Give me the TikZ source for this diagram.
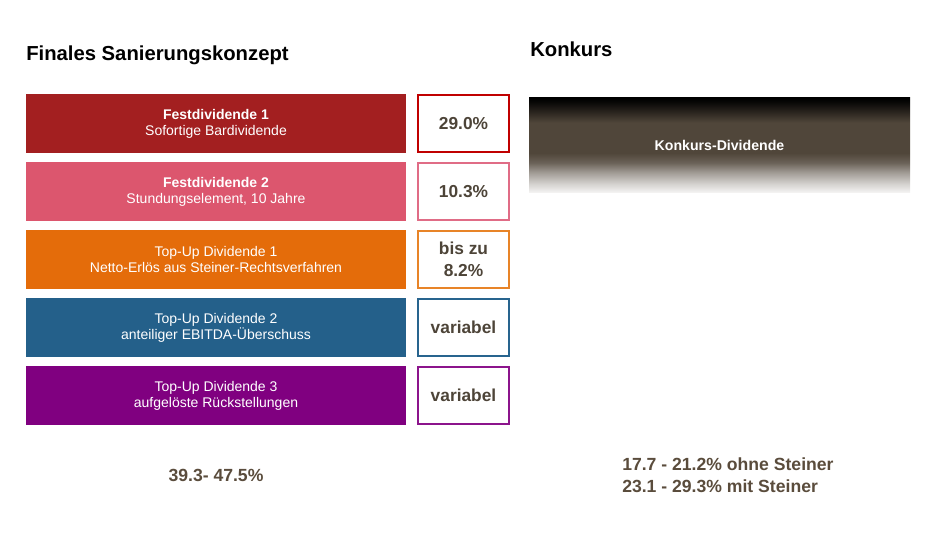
\documentclass[tikz,border=0pt]{standalone}
\usepackage{fontspec}
\setmainfont{Liberation Sans}
\usetikzlibrary{positioning}
\definecolor{custom-red}{RGB}{163, 31, 32}
\definecolor{custom-redline}{RGB}{192, 0, 0}
\definecolor{custom-pink}{RGB}{220, 86, 110}
\definecolor{custom-pinkline}{RGB}{224, 108, 134}
\definecolor{custom-orange}{RGB}{228, 108, 10}
\definecolor{custom-orangeline}{RGB}{232, 132, 40}
\definecolor{custom-blue}{RGB}{36, 96, 138}
\definecolor{custom-blueline}{RGB}{40, 100, 142}
\definecolor{custom-purple}{RGB}{128, 0, 128}
\definecolor{custom-purpleline}{RGB}{140, 20, 140}
\definecolor{custom-brown}{RGB}{80, 70, 58}
\definecolor{custom-text}{RGB}{77, 68, 56}
\definecolor{custom-sum}{RGB}{90, 76, 60}
\pgfdeclareverticalshading{konkursshade}{100bp}{color(0bp)=(custom-brown!5!white); color(25bp)=(custom-brown!5!white);
  color(30bp)=(custom-brown!25!white); color(36bp)=(custom-brown!55!white);
  color(41bp)=(custom-brown!85!white); color(46bp)=(custom-brown); color(62bp)=(custom-brown);
  color(68bp)=(custom-brown!50!black); color(73bp)=(custom-brown!10!black);
  color(75bp)=(black); color(100bp)=(black)}

\tikzset{
  divbox/.style={fill=#1, text=white, minimum width=285pt, minimum height=44.25pt,
    inner sep=0pt, align=center, font=\fontsize{10.5}{12}\selectfont},
  pctbox/.style={draw=#1, line width=1.6pt, fill=white, text=custom-text,
    minimum width=68.25pt, minimum height=42.75pt, inner sep=0pt, align=center,
    font=\bfseries\fontsize{13}{16.5}\selectfont},
  title/.style={font=\bfseries\fontsize{15.2}{18}\selectfont, inner sep=0pt},
  sumtext/.style={text=custom-sum, font=\bfseries\fontsize{13.2}{17}\selectfont, inner sep=0pt}
}

\begin{document}
\begin{tikzpicture}[x=0.75pt, y=-0.75pt]
\useasboundingbox (0,0) rectangle (932,541);
% titles
\node[title, anchor=base west] (tsan) at (26,61) {Finales Sanierungskonzept};
\node[title, anchor=base west] (tkon) at (530,57) {Konkurs};

% dividend bars
\node[divbox=custom-red] (d1) at (216,123.5) {\textbf{Festdividende 1}\\Sofortige Bardividende};
\node[divbox=custom-pink] (d2) at (216,191.5) {\textbf{Festdividende 2}\\Stundungselement, 10 Jahre};
\node[divbox=custom-orange] (d3) at (216,259.5) {Top-Up Dividende 1\\Netto-Erlös aus Steiner-Rechtsverfahren};
\node[divbox=custom-blue] (d4) at (216,327.5) {Top-Up Dividende 2\\anteiliger EBITDA-Überschuss};
\node[divbox=custom-purple] (d5) at (216,395.5) {Top-Up Dividende 3\\aufgelöste Rückstellungen};

% values
\node[pctbox=custom-redline, right=8pt of d1] (p1) {29.0\%};
\node[pctbox=custom-pinkline, right=8pt of d2] (p2) {10.3\%};
\node[pctbox=custom-orangeline, right=8pt of d3] (p3) {bis zu\\8.2\%};
\node[pctbox=custom-blueline, right=8pt of d4] (p4) {variabel};
\node[pctbox=custom-purpleline, right=8pt of d5] (p5) {variabel};

% konkurs
\node[shading=konkursshade, text=white, minimum width=285.75pt, minimum height=71.25pt,
  inner sep=0pt, font=\bfseries\fontsize{10.6}{12}\selectfont] (k1) at (719.5,145.5) {Konkurs-Dividende};

% sums
\node[sumtext] (s1) at (216,475) {39.3- 47.5\%};
\node[sumtext, anchor=north west, align=left] (s2) at (622,457) {17.7 - 21.2\% ohne Steiner\\23.1 - 29.3\% mit Steiner};
\end{tikzpicture}
\end{document}
